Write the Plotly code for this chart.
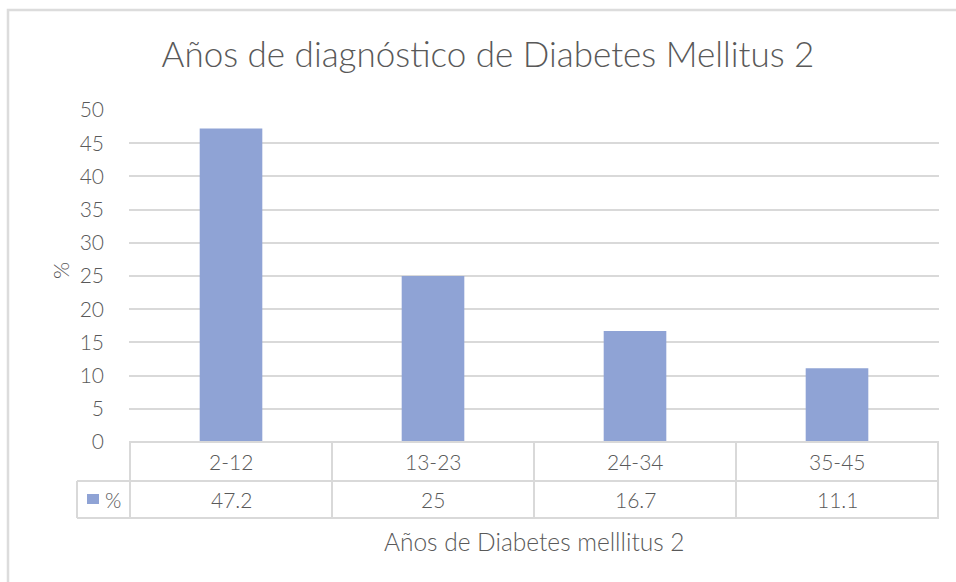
import plotly.graph_objects as go

# Años de diagnóstico (rangos) y porcentaje de pacientes
categorias = ["2-12", "13-23", "24-34", "35-45"]
porcentajes = [47.2, 25, 16.7, 11.1]
serie = "%"
etiquetas_tabla = ["47.2", "25", "16.7", "11.1"]

BAR = "#8FA3D5"
GRID = "#D9D9D9"
TXT = "#595959"
FONT = "Lato"
WT = 300

W, H = 956, 582
L, R, T, B = 129, 17, 110, 140
plot_h = H - T - B
plot_w = W - L - R


def py(px):
    """pixel row -> paper y"""
    return (H - B - px) / plot_h


def px_x(px):
    return (px - L) / plot_w


def fnt(size):
    return dict(family=FONT, size=size, color=TXT, weight=WT)


fig = go.Figure()
fig.add_trace(go.Bar(
    x=categorias, y=porcentajes, name=serie,
    marker=dict(color=BAR, line=dict(width=0)),
    width=0.31, hoverinfo="x+y",
))

shapes = []
row1 = py(481)
row2 = py(518)
line = dict(color=GRID, width=2)

# table horizontal lines
shapes.append(dict(type="line", xref="paper", yref="paper", x0=0, x1=1, y0=0, y1=0, line=line))
shapes.append(dict(type="line", xref="paper", yref="paper", x0=px_x(77), x1=1, y0=row1, y1=row1, line=line))
shapes.append(dict(type="line", xref="paper", yref="paper", x0=px_x(77), x1=1, y0=row2, y1=row2, line=line))
shapes.append(dict(type="line", xref="paper", yref="paper", x0=px_x(77), x1=px_x(77), y0=row1, y1=row2, line=line))
# column separators at category boundaries
for i in range(len(categorias) + 1):
    xb = i - 0.5
    shapes.append(dict(type="line", xref="x", yref="paper", x0=xb, x1=xb, y0=0, y1=row2, line=line))

# chart outer border
shapes.append(dict(type="rect", xref="paper", yref="paper",
                   x0=px_x(8), x1=px_x(970), y0=py(10), y1=py(600),
                   line=dict(color="#DCDCDC", width=2.5), layer="below"))

# legend key in the table
shapes.append(dict(type="rect", xref="paper", yref="paper",
                   x0=px_x(87), x1=px_x(99), y0=py(504), y1=py(494),
                   fillcolor=BAR, line=dict(width=0)))

annotations = []
for c, v in zip(categorias, etiquetas_tabla):
    annotations.append(dict(x=c, y=(0 + row1) / 2, xref="x", yref="paper", text=c,
                            showarrow=False, font=fnt(21),
                            xanchor="center", yanchor="middle"))
    annotations.append(dict(x=c, y=(row1 + row2) / 2, xref="x", yref="paper", text=v,
                            showarrow=False, font=fnt(21),
                            xanchor="center", yanchor="middle"))
annotations.append(dict(x=px_x(103), y=(row1 + row2) / 2, xref="paper", yref="paper", text=serie,
                        showarrow=False, font=fnt(21),
                        xanchor="left", yanchor="middle"))
annotations.append(dict(x=px_x(534), y=py(541), xref="paper", yref="paper",
                        text="Años de Diabetes melllitus 2",
                        showarrow=False, font=fnt(24.5),
                        xanchor="center", yanchor="middle"))
annotations.append(dict(x=px_x(60), y=py(271), xref="paper", yref="paper", text="%",
                        textangle=-90, showarrow=False, font=fnt(22),
                        xanchor="center", yanchor="middle"))

fig.update_layout(
    width=W, height=H,
    margin=dict(l=L, r=R, t=T, b=B),
    paper_bgcolor="white", plot_bgcolor="white",
    showlegend=False,
    title=dict(text="Años de diagnóstico de Diabetes Mellitus 2",
               x=px_x(488), xref="paper", xanchor="center",
               y=1 - 55 / H, yref="container", yanchor="middle",
               font=fnt(35)),
    xaxis=dict(type="category", showticklabels=False, showgrid=False, zeroline=False,
               showline=False, ticks=""),
    yaxis=dict(range=[0, 50], dtick=5, showgrid=True, gridcolor=GRID, gridwidth=2,
               zeroline=False, showline=False, ticks="",
               tickfont=fnt(21), ticklabelstandoff=24),
    shapes=shapes, annotations=annotations,
    bargap=0.69,
)

fig.write_html("out.html")
